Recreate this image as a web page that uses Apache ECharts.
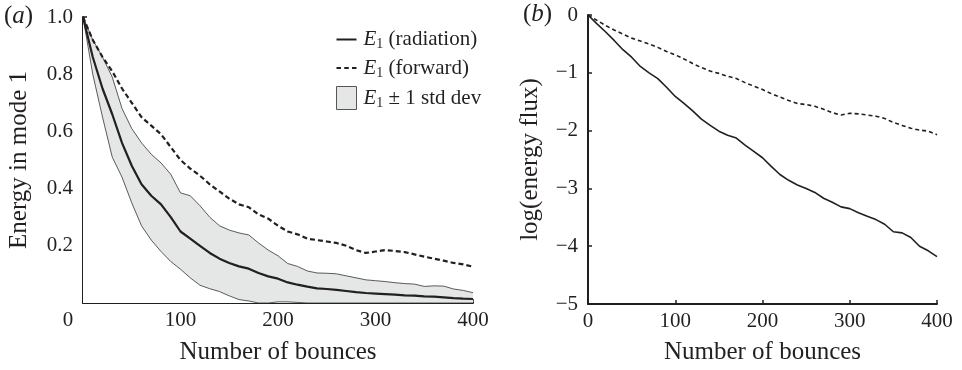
<!DOCTYPE html>
<html>
<head>
<meta charset="utf-8">
<script src="https://cdn.jsdelivr.net/npm/echarts@6/dist/echarts.min.js"></script>
<style>html,body{margin:0;padding:0;background:#fff;}#c{width:962px;height:370px;}</style>
</head>
<body>
<div id="c"></div>
<script>
// bounces (x values)
var bounces = [0,10,20,30,40,50,60,70,80,90,100,110,120,130,140,150,160,170,180,190,200,
               210,220,230,240,250,260,270,280,290,300,310,320,330,340,350,360,370,380,390,400];
// panel (a): energy in mode 1
var meanRadiation = [1.0,0.86,0.75,0.66,0.56,0.48,0.415,0.375,0.345,0.30,0.25,0.225,0.20,0.175,0.155,0.14,0.128,0.12,0.105,0.093,0.085,
                     0.072,0.064,0.057,0.051,0.049,0.046,0.042,0.038,0.035,0.033,0.031,0.029,0.027,0.026,0.023,0.022,0.02,0.017,0.015,0.014];
var upperStd = [1.0,0.92,0.86,0.79,0.68,0.61,0.56,0.52,0.49,0.45,0.385,0.375,0.34,0.30,0.27,0.255,0.245,0.238,0.21,0.185,0.165,
                0.138,0.128,0.112,0.105,0.104,0.102,0.095,0.088,0.081,0.078,0.075,0.071,0.068,0.066,0.058,0.06,0.059,0.049,0.044,0.036];
var lowerStd = [1.0,0.80,0.65,0.51,0.44,0.35,0.27,0.22,0.18,0.145,0.118,0.088,0.062,0.05,0.04,0.025,0.012,0.007,0,0,0.004,
                0.004,0.002,0,0,0,0,0,0,0,0,0,0,0,0,0,0,0,0,0,0];
var forwardA = [1.0,0.92,0.86,0.81,0.75,0.70,0.65,0.62,0.59,0.545,0.50,0.47,0.445,0.415,0.39,0.365,0.345,0.335,0.31,0.295,0.27,
                0.25,0.24,0.225,0.22,0.215,0.21,0.20,0.185,0.175,0.18,0.185,0.182,0.178,0.17,0.162,0.155,0.148,0.14,0.135,0.127];
// panel (b): log(energy flux)
var logRadiation = [0,-0.15,-0.29,-0.44,-0.60,-0.73,-0.89,-1.0,-1.1,-1.25,-1.41,-1.53,-1.66,-1.80,-1.91,-2.01,-2.08,-2.13,-2.25,-2.36,-2.47,
                    -2.62,-2.76,-2.86,-2.94,-3.0,-3.07,-3.17,-3.24,-3.32,-3.35,-3.42,-3.48,-3.54,-3.62,-3.75,-3.77,-3.85,-4.0,-4.08,-4.18];
var logForward = [0,-0.09,-0.18,-0.26,-0.33,-0.40,-0.45,-0.50,-0.56,-0.63,-0.69,-0.76,-0.84,-0.91,-0.97,-1.01,-1.06,-1.10,-1.17,-1.23,-1.29,
                  -1.36,-1.42,-1.48,-1.53,-1.55,-1.58,-1.63,-1.69,-1.73,-1.70,-1.71,-1.73,-1.75,-1.79,-1.86,-1.91,-1.96,-1.99,-2.01,-2.07];
var yTicksA = [0.2,0.4,0.6,0.8,1.0];

function pairs(ys){ return bounces.map(function(x,i){ return [x, ys[i]]; }); }

var FONT = 'Liberation Serif';
var INK = '#231f20';
var BAND = '#e5e6e6';
var axisLine = {show:true, onZero:false, lineStyle:{color:INK, width:2}};
var axisTick = {show:true, inside:true, length:4, lineStyle:{color:INK, width:1.5}};
var nameStyle = {color:INK, fontFamily:FONT, fontSize:25};

var chart = echarts.init(document.getElementById('c'), null, {renderer:'canvas'});
chart.setOption({
  animation:false,
  backgroundColor:'#fff',
  title:[
    {text:'({i|a})', left:4, top:4, padding:0,
     textStyle:{fontFamily:FONT, fontSize:25, color:INK, fontWeight:'normal',
       rich:{i:{fontFamily:FONT, fontSize:25, fontStyle:'italic', color:INK}}}},
    {text:'({i|b})', left:523, top:2, padding:0,
     textStyle:{fontFamily:FONT, fontSize:25, color:INK, fontWeight:'normal',
       rich:{i:{fontFamily:FONT, fontSize:25, fontStyle:'italic', color:INK}}}}
  ],
  legend:{
    left:331, top:24, orient:'vertical', itemWidth:20, itemHeight:23, itemGap:6,
    selectedMode:false, symbolKeepAspect:true,
    data:[
      {name:'radiation', icon:'path://M0,0h20v2h-20z', itemStyle:{color:INK, borderWidth:0}},
      {name:'forward', icon:'path://M0,0h4.5v2h-4.5z M7.75,0h4.5v2h-4.5z M15.5,0h4.5v2h-4.5z', itemStyle:{color:INK, borderWidth:0}},
      {name:'band', icon:'rect', itemStyle:{color:BAND, borderColor:'#555', borderWidth:1}}
    ],
    formatter:function(n){
      var t = n==='radiation' ? ' (radiation)' : (n==='forward' ? ' (forward)' : ' \u00b1 1 std dev');
      return '{i|E}{s|1}{t|' + t + '}';
    },
    textStyle:{fontFamily:FONT, fontSize:21, color:INK, padding:[0,0,0,2],
      rich:{
        i:{fontFamily:FONT, fontSize:21, fontStyle:'italic', color:INK, lineHeight:24, verticalAlign:'middle'},
        s:{fontFamily:FONT, fontSize:14, color:INK, lineHeight:14, verticalAlign:'bottom'},
        t:{fontFamily:FONT, fontSize:21, color:INK, lineHeight:24, verticalAlign:'middle'}
      }}
  },
  grid:[
    {left:83, top:17, width:390, height:286, containLabel:false},
    {left:588, top:15, width:349, height:289, containLabel:false}
  ],
  xAxis:[
    {gridIndex:0, type:'value', min:0, max:400, interval:100,
     axisLine:axisLine, axisTick:axisTick, splitLine:{show:false},
     axisLabel:{margin:7, color:INK, fontFamily:FONT, fontSize:21,
       formatter:function(v){ return v===0 ? '{z|0}' : String(v); },
       rich:{z:{fontFamily:FONT, fontSize:21, color:INK, padding:[0,30,0,0]}}},
     name:'Number of bounces', nameLocation:'middle', nameGap:37, nameTextStyle:nameStyle},
    {gridIndex:1, type:'value', min:0, max:400, interval:100,
     axisLine:axisLine, axisTick:axisTick, splitLine:{show:false},
     axisLabel:{margin:7, color:INK, fontFamily:FONT, fontSize:21},
     name:'Number of bounces', nameLocation:'middle', nameGap:36, nameTextStyle:nameStyle}
  ],
  yAxis:[
    {gridIndex:0, type:'value', min:0, max:1, interval:0.2,
     axisLine:axisLine, axisTick:axisTick, splitLine:{show:false},
     axisLabel:{margin:10, color:INK, fontFamily:FONT, fontSize:21,
       formatter:function(v){ return yTicksA.indexOf(Math.round(v*10)/10) >= 0 ? v.toFixed(1) : ''; }},
     name:'Energy in mode 1', nameLocation:'middle', nameGap:51, nameTextStyle:nameStyle},
    {gridIndex:1, type:'value', min:-5, max:0, interval:1,
     axisLine:axisLine, axisTick:axisTick, splitLine:{show:false},
     axisLabel:{margin:10, color:INK, fontFamily:FONT, fontSize:21,
       formatter:function(v){ return String(v).replace('-', '\u2212'); }},
     name:'log(energy flux)', nameLocation:'middle', nameGap:45, nameTextStyle:nameStyle}
  ],
  series:[
    {name:'band', type:'line', xAxisIndex:0, yAxisIndex:0, data:pairs(upperStd),
     symbol:'none', lineStyle:{color:'#333', width:0.8}, areaStyle:{color:BAND, opacity:1, origin:'start'},
     itemStyle:{color:BAND}, z:1, silent:true},
    {name:'lower', type:'line', xAxisIndex:0, yAxisIndex:0, data:pairs(lowerStd),
     symbol:'none', lineStyle:{color:'#333', width:0.8}, areaStyle:{color:'#ffffff', opacity:1, origin:'start'},
     z:2, silent:true},
    {name:'radiation', type:'line', xAxisIndex:0, yAxisIndex:0, data:pairs(meanRadiation),
     symbol:'none', lineStyle:{color:INK, width:2.2}, itemStyle:{color:INK}, z:3},
    {name:'forward', type:'line', xAxisIndex:0, yAxisIndex:0, data:pairs(forwardA),
     symbol:'none', lineStyle:{color:INK, width:2.2, type:[5,3]}, itemStyle:{color:INK}, z:3},
    {name:'logRadiation', type:'line', xAxisIndex:1, yAxisIndex:1, data:pairs(logRadiation),
     symbol:'none', lineStyle:{color:INK, width:1.6}, z:3},
    {name:'logForward', type:'line', xAxisIndex:1, yAxisIndex:1, data:pairs(logForward),
     symbol:'none', lineStyle:{color:INK, width:1.6, type:[4,3]}, z:3}
  ]
});
</script>
</body>
</html>
